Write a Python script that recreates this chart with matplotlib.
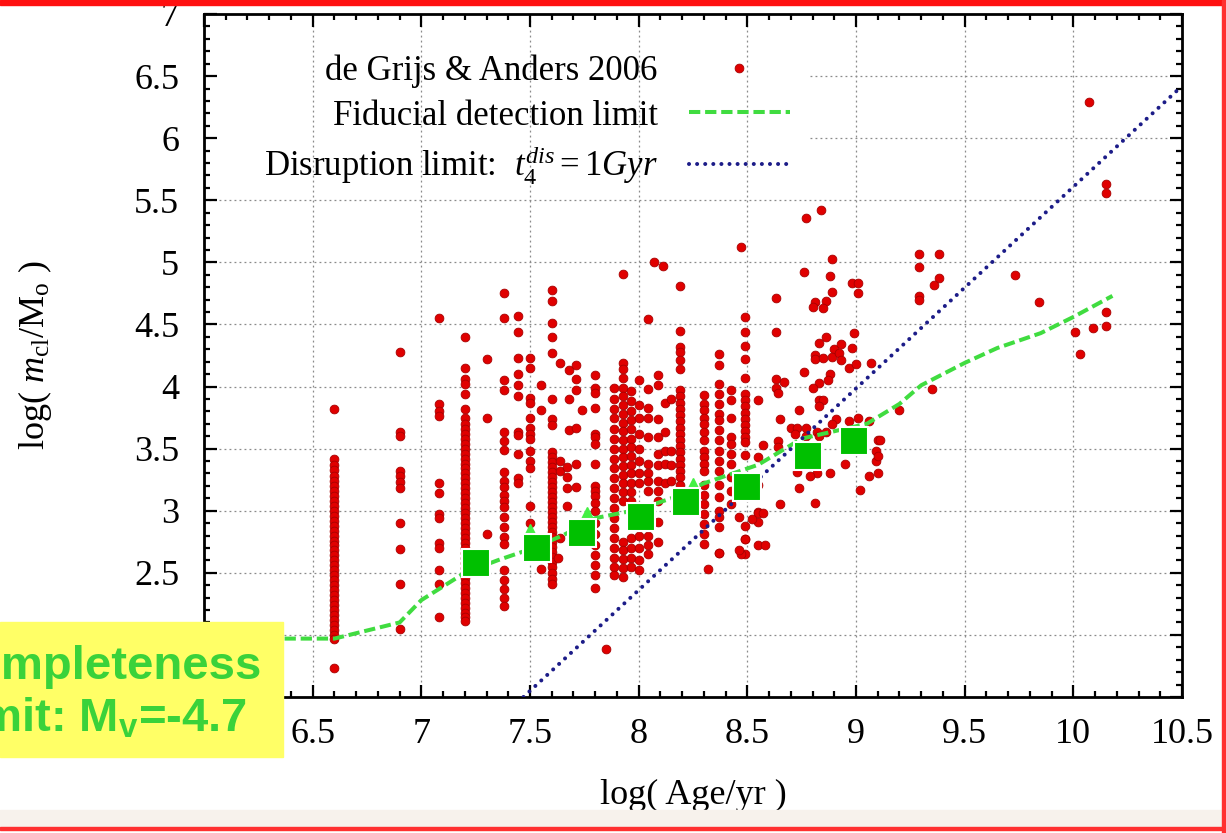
import matplotlib
matplotlib.use("Agg")
import matplotlib.pyplot as plt
from matplotlib.patches import Rectangle
from matplotlib.ticker import MultipleLocator

# Cluster ages (log yr) that carry a vertical column of points, with their masses
m_660 = [3.82, 3.42, 3.37, 3.33, 3.28, 3.24, 3.20, 3.16, 3.12, 3.08, 3.04, 3.00, 2.96, 2.92,
         2.88, 2.84, 2.80, 2.76, 2.72, 2.68, 2.64, 2.60, 2.56, 2.52, 2.48, 2.44, 2.40, 2.36,
         2.32, 2.28, 2.24, 2.20, 2.16, 2.12, 2.08, 2.04, 2.00, 1.97, 1.73]
m_690 = [4.28, 3.63, 3.60, 3.32, 3.28, 3.23, 3.18, 2.90, 2.69, 2.41, 2.05]
m_708 = [4.55, 3.86, 3.80, 3.76, 3.22, 3.14, 2.97, 2.94, 2.74, 2.70, 2.52, 2.41, 2.14]
m_720 = [4.40, 4.15, 4.06, 4.02, 3.94, 3.82, 3.75, 3.70, 3.66, 3.62, 3.58, 3.54, 3.50, 3.46,
         3.42, 3.38, 3.34, 3.30, 3.26, 3.22, 3.18, 3.14, 3.10, 3.06, 3.02, 2.98, 2.94, 2.90,
         2.86, 2.82, 2.78, 2.74, 2.70, 2.66, 2.62, 2.58, 2.54, 2.50, 2.46, 2.42, 2.38, 2.34,
         2.30, 2.26, 2.22, 2.18, 2.14, 2.11]
m_730 = [4.22, 3.75, 2.81]
m_738 = [4.75, 4.55, 4.05, 3.97, 3.63, 3.56, 3.49, 3.31, 3.24, 3.19, 3.13, 3.08, 3.03, 2.95,
         2.87, 2.79, 2.73, 2.52, 2.44, 2.37, 2.30, 2.23]
m_744 = [4.57, 4.44, 4.23, 4.10, 4.01, 3.92, 3.63, 3.61, 3.46, 3.26, 3.22]
m_750 = [4.23, 4.15, 3.91, 3.87, 3.75, 3.67, 3.62, 3.58, 3.48, 3.40, 3.34, 3.04, 2.90]
m_760 = [4.78, 4.69, 4.51, 4.40, 4.27, 3.90, 3.74, 3.69, 3.47, 3.43, 3.39, 3.35, 3.31, 3.27,
         3.23, 3.19, 3.15, 3.11, 3.07, 3.03, 2.99, 2.95, 2.91, 2.87, 2.83, 2.79, 2.75, 2.71,
         2.67, 2.63, 2.59, 2.55, 2.50, 2.45, 2.41]
m_780 = [4.09, 3.99, 3.95, 3.83, 3.62, 3.59, 3.54, 3.38, 3.20, 3.16, 3.12, 3.06, 3.00, 2.90,
         2.81, 2.72, 2.64, 2.56, 2.48, 2.38]
m_789 = [3.99, 3.90, 3.82, 3.75, 3.66, 3.58, 3.50, 3.42, 3.34, 3.26, 3.18, 3.10, 3.02, 2.94,
         2.86, 2.78, 2.70, 2.62, 2.55, 2.48]
m_793 = [4.19, 4.14, 4.07, 3.99, 3.92, 3.85, 3.78, 3.71, 3.64, 3.57, 3.50, 3.43, 3.36, 3.29,
         3.22, 3.15, 3.08, 2.75, 2.68, 2.61, 2.54, 2.47]
m_797 = [3.96, 3.88, 3.80, 3.73, 3.66, 3.58, 3.51, 3.44, 3.37, 3.30, 3.22, 3.15, 3.08, 2.78,
         2.70, 2.62, 2.55]
m_800 = [4.05, 3.85, 3.75, 3.62, 3.50, 3.40, 3.30, 3.22, 2.80, 2.70, 2.60, 2.52]
m_805 = [4.54, 3.98, 3.83, 3.75, 3.59, 3.38, 3.30, 3.24, 3.16, 2.80, 2.72, 2.65]
m_809 = [4.09, 4.01, 3.74, 3.59, 3.46, 3.37, 3.24, 3.16, 3.08, 2.91, 2.75]
m_812 = [3.87, 3.63, 3.48, 3.38, 3.22]
m_815 = [3.90, 3.48, 3.37, 3.24]
m_819 = [4.81, 4.45, 4.32, 4.28, 4.21, 4.14, 3.97, 3.92, 3.87, 3.82, 3.77, 3.72, 3.67, 3.62,
         3.57, 3.52, 3.47, 3.42, 3.37, 3.32, 3.27, 3.21]
m_830 = [3.93, 3.86, 3.81, 3.75, 3.70, 3.63, 3.57, 3.48, 3.43, 3.38, 3.32, 3.21, 3.13, 3.05,
         2.97, 2.89, 2.81, 2.73]
m_837 = [4.26, 4.17, 4.02, 3.94, 3.86, 3.78, 3.73, 3.65, 3.57, 3.48, 3.40, 3.32, 3.21, 3.11,
         3.00, 2.95, 2.87, 2.66]
m_842 = [3.97, 3.89, 3.75, 3.59, 3.54, 3.46, 3.38, 3.27, 3.16, 3.05]
m_849 = [4.56, 4.44, 4.33, 4.22, 4.07, 3.94, 3.89, 3.84, 3.79, 3.74, 3.69, 3.64, 3.59, 3.55,
         3.45, 2.88, 2.77, 2.65]
m_855 = [3.89, 3.43, 3.21, 2.99, 2.91, 2.72]

column_ages = [6.60, 6.90, 7.08, 7.20, 7.30, 7.38, 7.445, 7.50, 7.60, 7.80, 7.885, 7.93,
               7.965, 8.00, 8.045, 8.09, 8.12, 8.15, 8.19, 8.30, 8.37, 8.425, 8.49, 8.55]
column_masses = [m_660, m_690, m_708, m_720, m_730, m_738, m_744, m_750, m_760, m_780,
                 m_789, m_793, m_797, m_800, m_805, m_809, m_812, m_815, m_819, m_830,
                 m_837, m_842, m_849, m_855]

# Scattered individual clusters
field_age = [7.55, 7.55, 7.64, 7.68, 7.71, 7.71, 7.68, 7.71, 7.74, 7.68, 7.71, 7.64, 7.64,
             7.67, 7.67, 7.71, 7.67, 7.71, 7.67, 7.64, 7.63, 7.55,
             7.85, 7.93, 8.07, 8.11, 8.32, 8.37, 8.47,
             8.47, 8.77, 8.84, 8.89, 8.76, 8.88, 8.89, 8.98, 9.01, 9.01, 8.81, 8.86, 8.80,
             8.85, 8.63, 8.63, 8.99, 8.86, 8.83, 8.90, 8.93, 8.98, 8.81, 8.81, 8.85, 8.89,
             8.92, 8.93, 8.97, 9.00, 9.07, 8.76, 8.88, 8.87, 8.83, 8.80, 8.63, 8.67, 8.63,
             8.64, 8.83, 8.85, 8.83, 8.74, 8.65, 8.91, 8.97, 9.01, 8.89, 9.06, 8.70, 8.73,
             8.77, 8.82, 8.86, 8.83, 8.72, 8.77, 9.10, 8.64, 8.57, 8.64, 9.09, 8.95, 9.09,
             8.73, 8.82, 8.79, 8.88, 9.06, 9.02, 8.74, 8.81, 8.65, 8.55, 8.57, 8.46, 8.52,
             8.49, 8.58, 8.46,
             9.29, 9.38, 9.29, 9.38, 9.36, 9.29, 9.29, 9.73, 9.84, 10.07, 10.15, 10.15,
             10.15, 10.15, 10.09, 10.01, 10.03, 9.35, 9.20, 9.11, 9.10, 9.10]
field_mass = [4.01, 3.81, 4.19, 4.13, 4.17, 4.06, 3.90, 3.97, 3.81, 3.65, 3.67, 3.40, 3.32,
              3.35, 3.27, 3.38, 3.18, 3.19, 3.04, 2.78, 2.62, 2.53,
              1.89, 4.91, 5.00, 4.97, 2.53, 2.66, 2.65,
              5.12, 5.36, 5.42, 5.03, 4.92, 4.89, 4.76, 4.83, 4.83, 4.75, 4.68, 4.69, 4.64,
              4.63, 4.71, 4.44, 4.43, 4.40, 4.35, 4.30, 4.34, 4.31, 4.25, 4.22, 4.23, 4.24,
              4.27, 4.21, 4.15, 4.18, 4.19, 4.12, 4.10, 4.05, 4.03, 3.99, 4.06, 4.04, 3.99,
              3.95, 3.89, 3.89, 3.84, 3.81, 3.74, 3.74, 3.72, 3.75, 3.70, 3.72, 3.67, 3.67,
              3.67, 3.63, 3.63, 3.60, 3.62, 3.60, 3.57, 3.56, 3.53, 3.51, 3.48, 3.38, 3.40,
              3.31, 3.30, 3.28, 3.30, 3.28, 3.17, 3.18, 3.06, 3.05, 2.98, 2.98, 2.95, 2.93,
              2.77, 2.72, 2.68,
              5.07, 5.07, 4.96, 4.87, 4.82, 4.73, 4.70, 4.90, 4.68, 6.29, 5.63, 5.56,
              4.60, 4.49, 4.47, 4.44, 4.26, 3.98, 3.81, 3.57, 3.44, 3.30]

# Fiducial detection limit (green dashed)
fiducial_age = [6.00, 6.60, 6.90, 7.00, 7.20, 7.35, 7.50, 7.65, 7.80, 8.00, 8.15, 8.30, 8.55,
                8.75, 9.05, 9.20, 9.30, 9.50, 9.65, 9.85, 10.00, 10.18]
fiducial_mass = [1.97, 1.97, 2.10, 2.28, 2.50, 2.60, 2.69, 2.80, 2.94, 3.01, 3.10, 3.22, 3.37,
                 3.58, 3.70, 3.86, 4.01, 4.19, 4.31, 4.43, 4.56, 4.73]

# Disruption limit t4 = 1 Gyr (blue dotted)
disruption_age = [7.47, 10.50]
disruption_mass = [1.50, 6.42]

# Binned completeness points (green squares) and the triangles behind them
bin_age = [7.25, 7.53, 7.74, 8.01, 8.22, 8.50, 8.78, 8.99]
bin_mass = [2.58, 2.70, 2.82, 2.95, 3.07, 3.19, 3.44, 3.56]
tri_age = [7.50, 7.76, 8.25]
tri_mass = [2.84, 2.97, 3.21]


def main():
    plt.rcParams["font.family"] = ["Liberation Serif", "DejaVu Serif"]
    plt.rcParams["mathtext.fontset"] = "custom"
    plt.rcParams["mathtext.rm"] = "Liberation Serif"
    plt.rcParams["mathtext.it"] = "Liberation Serif:italic"
    plt.rcParams["mathtext.bf"] = "Liberation Sans:bold"

    fig = plt.figure(figsize=(12.26, 8.33), dpi=100)
    ax = fig.add_axes([0.1664, 0.1633, 0.7977, 0.8199])

    scat_x, scat_y = [], []
    for age, masses in zip(column_ages, column_masses):
        scat_x.extend([age] * len(masses))
        scat_y.extend(masses)
    scat_x.extend(field_age)
    scat_y.extend(field_mass)

    ax.plot(scat_x, scat_y, "o", ls="none", ms=6.3, color="#e00000",
            mec="#a80000", mew=0.6, zorder=3, label="de Grijs & Anders 2006")
    ax.plot(fiducial_age, fiducial_mass, color="#40dc40", lw=2.9,
            ls=(0, (2.8, 1.2)), zorder=4, label="Fiducial detection limit")
    ax.plot(disruption_age, disruption_mass, color="#1c1c88", lw=2.9,
            ls=(0, (0.01, 2.0)), dash_capstyle="round", zorder=4,
            label="Disruption limit:  $t_4^{dis}=1Gyr$")
    ax.plot(tri_age, tri_mass, "^", ls="none", ms=10, color="#44f044", zorder=5)
    ax.plot(bin_age, bin_mass, "s", ls="none", ms=20, color="#00c000",
            mec="white", mew=1.5, zorder=6)

    ax.set_xlim(6.0, 10.5)
    ax.set_ylim(1.5, 7.0)
    ax.xaxis.set_major_locator(MultipleLocator(0.5))
    ax.xaxis.set_minor_locator(MultipleLocator(0.1))
    ax.yaxis.set_major_locator(MultipleLocator(0.5))
    ax.yaxis.set_minor_locator(MultipleLocator(0.1))
    ax.xaxis.set_major_formatter(plt.FuncFormatter(lambda v, p: f"{v:g}"))
    ax.yaxis.set_major_formatter(plt.FuncFormatter(lambda v, p: f"{v:g}"))

    ax.tick_params(which="both", direction="in", top=True, right=True,
                   labelsize=26, width=1.6)
    ax.tick_params(which="major", length=9)
    ax.tick_params(which="minor", length=4.5)
    ax.tick_params(axis="x", pad=15)
    ax.tick_params(axis="y", pad=18)
    for sp in ax.spines.values():
        sp.set_linewidth(2.0)

    # grid: vertical everywhere, horizontal hidden behind the key at the top
    grid_kw = dict(color="#8a8a8a", lw=0.9, ls=(0, (1.5, 2.5)), zorder=1)
    ax.grid(axis="x", which="major", **grid_kw)
    for yv in [2.0, 2.5, 3.0, 3.5, 4.0, 4.5, 5.0, 5.5]:
        ax.axhline(yv, **grid_kw)
    for yv in [6.0, 6.5]:
        ax.axhline(yv, xmin=0.62, **grid_kw)

    ax.set_xlabel("log( Age/yr )", fontsize=26)
    ax.xaxis.set_label_coords(0.5, -0.12)
    ax.set_ylabel("log( $m_{\\rm cl}$/M$_{\\rm o}$ )", fontsize=26)
    ax.yaxis.set_label_coords(-0.153, 0.5)

    ax.legend(loc="upper right", bbox_to_anchor=(0.599, 0.94), frameon=False,
              markerfirst=False, numpoints=1, fontsize=25, handlelength=2.9,
              handletextpad=0.9, labelspacing=0.32, borderpad=0, borderaxespad=0)

    # slide decorations around the figure
    fig.add_artist(Rectangle((0, 0.994), 1, 0.006, transform=fig.transFigure,
                             color="#ff1010", zorder=10))
    fig.add_artist(Rectangle((0.9967, 0), 0.0025, 1, transform=fig.transFigure,
                             color="#ff3030", zorder=10))
    fig.add_artist(Rectangle((0, 0.0072), 0.997, 0.0204, transform=fig.transFigure,
                             color="#f7f2ec", zorder=9))
    fig.add_artist(Rectangle((0, 0.0036), 0.997, 0.0036, transform=fig.transFigure,
                             color="#ff3030", zorder=10))

    # completeness note box, clipped at the slide edge
    fig.add_artist(Rectangle((0, 0.0912), 0.2308, 0.162, transform=fig.transFigure,
                             color="#ffff66", zorder=20))
    fig.text(100 / 1226, 0.168, "Completeness\nlimit: M$_\\mathbf{v}$=-4.7",
             family="Liberation Sans", fontweight="bold", fontsize=34,
             color="#3ad23a", ha="center", va="center", linespacing=1.25, zorder=21)

    fig.savefig("out.png", dpi=100)


if __name__ == "__main__":
    main()
